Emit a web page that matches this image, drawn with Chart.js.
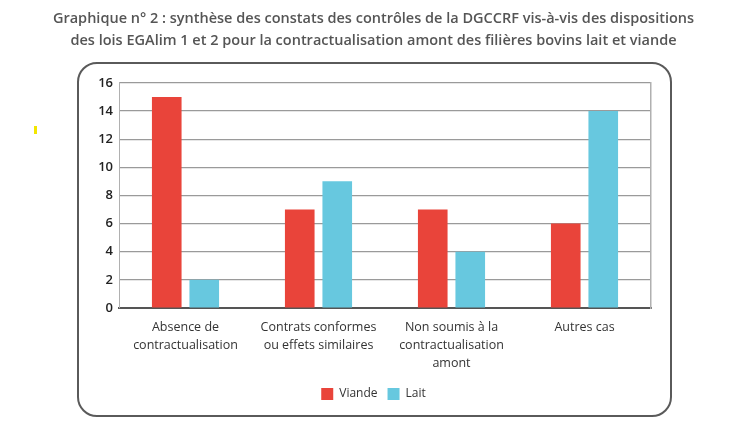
<!DOCTYPE html>
<html>
<head>
<meta charset="utf-8">
<script src="https://cdn.jsdelivr.net/npm/chart.js@4/dist/chart.umd.min.js"></script>
<style>
  html, body { margin: 0; padding: 0; background: #ffffff; }
  #wrap { position: relative; width: 747px; height: 427px; }
  #frame { position: absolute; left: 77px; top: 62px; width: 591px; height: 351px;
           border: 2px solid #5a5a5a; border-radius: 20px; pointer-events: none; }
  #mark { position: absolute; left: 34px; top: 126px; width: 3px; height: 8px; background: #f2e600; }
  canvas { position: absolute; left: 0; top: 0; }
</style>
</head>
<body>
<div id="wrap">
  <div id="frame"></div>
  <div id="mark"></div>
  <canvas id="c" width="747" height="427"></canvas>
</div>
<script>
const titleLines = [
  "Graphique n° 2 : synthèse des constats des contrôles de la DGCCRF vis-à-vis des dispositions",
  "des lois EGAlim 1 et 2 pour la contractualisation amont des filières bovins lait et viande"
];
const categories = [
  ["Absence de", "contractualisation"],
  ["Contrats conformes", "ou effets similaires"],
  ["Non soumis à la", "contractualisation", "amont"],
  ["Autres cas"]
];
const seriesNames = ["Viande", "Lait"];
const viande = [15, 7, 7, 6];
const lait = [2, 9, 4, 14];
const yTicks = [0, 2, 4, 6, 8, 10, 12, 14, 16];

const FONT = "'Open Sans', 'Noto Sans', sans-serif";

new Chart(document.getElementById('c'), {
  type: 'bar',
  data: {
    labels: categories,
    datasets: [
      { label: seriesNames[0], data: viande, backgroundColor: '#E9443A',
        categoryPercentage: 0.564, barPercentage: 0.79 },
      { label: seriesNames[1], data: lait, backgroundColor: '#67C8DF',
        categoryPercentage: 0.564, barPercentage: 0.79 }
    ]
  },
  options: {
    responsive: false,
    animation: false,
    layout: { padding: { left: 0, right: 0, top: 0, bottom: 17 } },
    plugins: {
      title: {
        display: true,
        text: titleLines,
        color: '#555555',
        font: { family: FONT, size: 14.5, weight: '600', lineHeight: 1.58 },
        padding: { top: 7, bottom: 30 }
      },
      legend: {
        position: 'bottom',
        labels: {
          color: '#333333',
          font: { family: FONT, size: 12 },
          boxWidth: 12, boxHeight: 12, padding: 10
        }
      },
      tooltip: { enabled: false }
    },
    scales: {
      x: {
        grid: { display: false, drawTicks: false },
        border: { display: true, color: '#555555', width: 2 },
        ticks: { color: '#333333', font: { family: FONT, size: 12.5, lineHeight: 1.45 },
                 padding: 10, maxRotation: 0, autoSkip: false },
        afterFit: s => { s.height = 70; }
      },
      y: {
        min: 0, max: 16,
        afterBuildTicks: s => { s.ticks = yTicks.map(v => ({ value: v })); },
        grid: { color: '#9a9a9a', lineWidth: 1.2, drawTicks: false },
        border: { display: true, color: '#b0b0b0', width: 1 },
        ticks: { color: '#222222', font: { family: FONT, size: 13, weight: '600' }, padding: 6 },
        afterFit: s => { s.width = 119; }
      },
      yRight: {
        position: 'right',
        display: true,
        min: 0, max: 16,
        grid: { display: false, drawTicks: false },
        border: { display: true, color: '#b0b0b0', width: 1.5 },
        ticks: { display: false },
        afterFit: s => { s.width = 96; }
      }
    }
  }
});
</script>
</body>
</html>
